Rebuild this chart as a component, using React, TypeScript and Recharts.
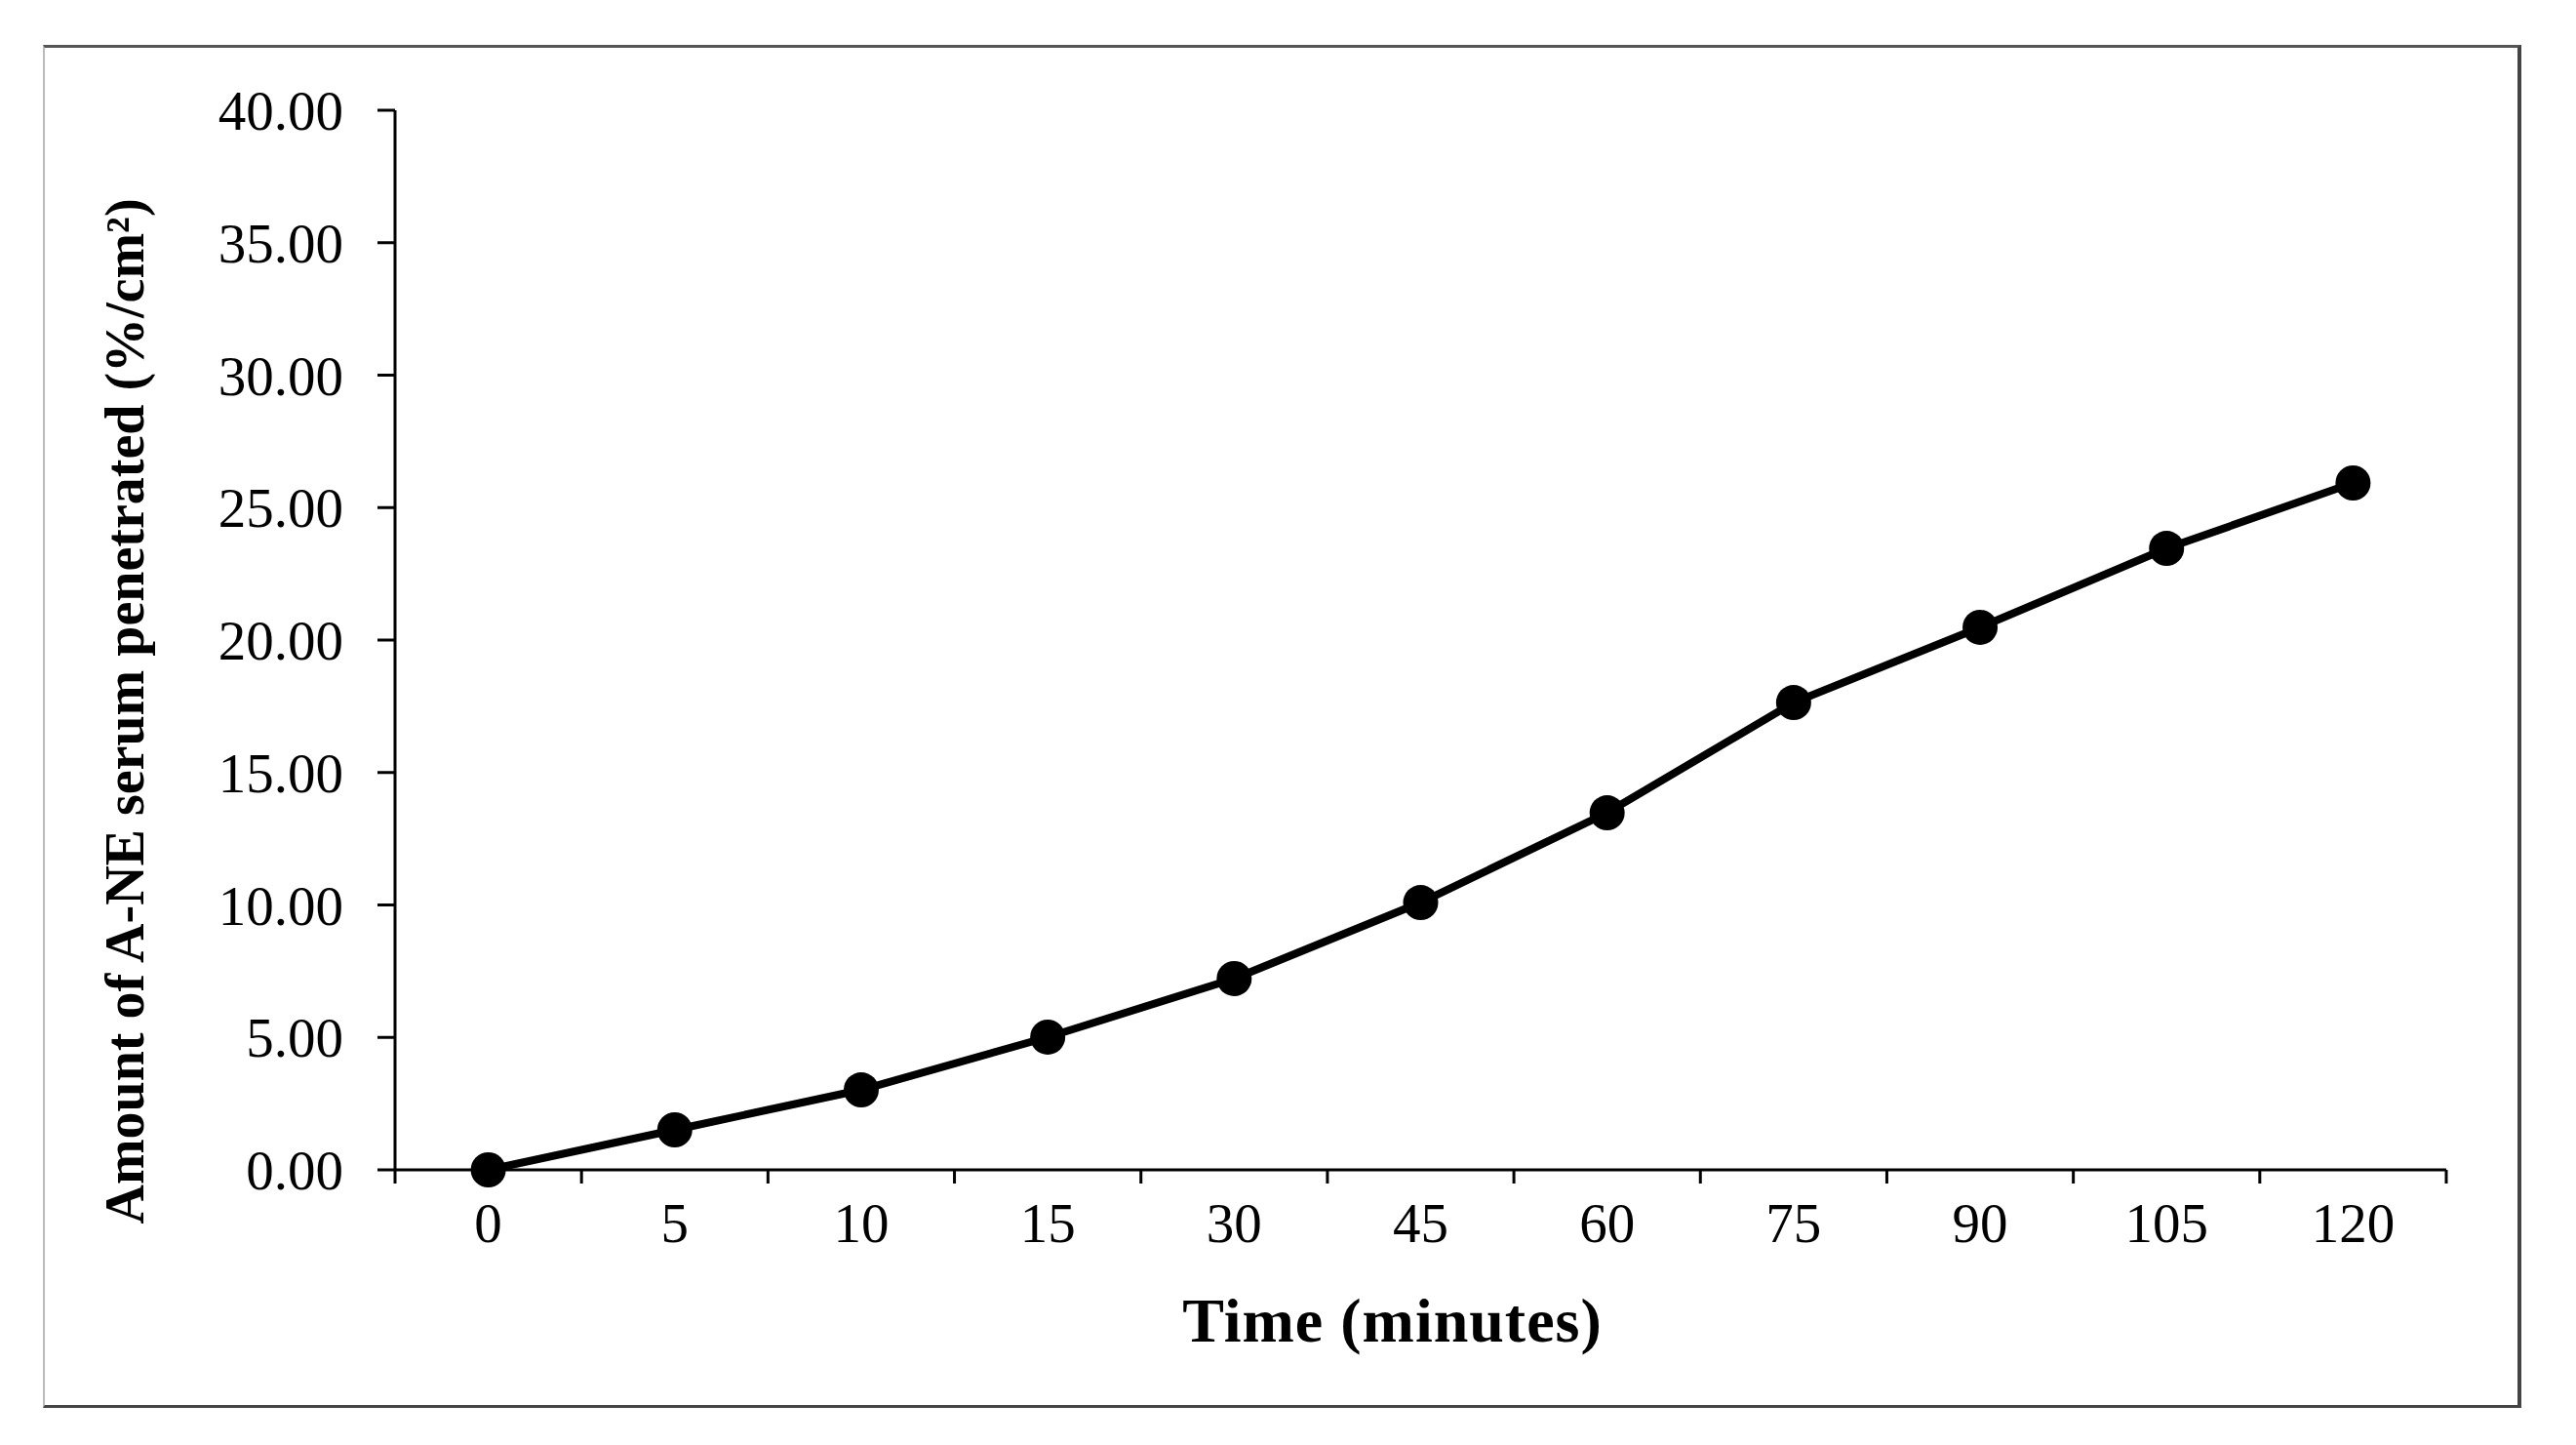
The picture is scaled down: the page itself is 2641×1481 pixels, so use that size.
import React from 'react';
import { LineChart, Line, XAxis, YAxis } from 'recharts';

const FONT = '"Liberation Serif", "Times New Roman", serif';

// time points (minutes) and cumulative amount penetrated (%/cm²)
const times = ['0', '5', '10', '15', '30', '45', '60', '75', '90', '105', '120'];
const amounts = [0, 1.51, 3.02, 5.01, 7.22, 10.09, 13.48, 17.64, 20.48, 23.46, 25.93];
const yTicks = [0, 5, 10, 15, 20, 25, 30, 35, 40];

const data = times.map((t, i) => ({ idx: i, time: t, amount: amounts[i] }));

// half steps: integers carry the labels, halves carry the tick marks between categories
const xTicks = Array.from({ length: times.length * 2 + 1 }, (_, k) => k / 2 - 0.5);

const XTick = (props: any) => {
    const { x, y, payload } = props;
    const v = payload.value as number;
    if (Number.isInteger(v)) {
        return (
            <text x={x} y={y + 60} textAnchor="middle" fontSize={57} fontFamily={FONT} fill="#000">
                {times[v]}
            </text>
        );
    }
    return <line x1={x} x2={x} y1={y - 14} y2={y} stroke="#000" strokeWidth={3} />;
};

const YTitle = (props: any) => {
    const { viewBox } = props;
    const cx = viewBox.x + 147;
    const cy = viewBox.y + viewBox.height / 2 + 73;
    return (
        <text
            transform={`translate(${cx},${cy}) rotate(-90)`}
            textAnchor="middle"
            fontSize={56}
            fontWeight="bold"
            fontFamily={FONT}
            fill="#000"
        >
            Amount of A-NE serum penetrated (%/cm²)
        </text>
    );
};

const XTitle = (props: any) => {
    const { viewBox } = props;
    return (
        <text
            x={viewBox.x + viewBox.width / 2 - 29}
            y={viewBox.y + 176}
            textAnchor="middle"
            fontSize={64}
            letterSpacing={1}
            fontWeight="bold"
            fontFamily={FONT}
            fill="#000"
        >
            Time (minutes)
        </text>
    );
};

export default function App() {
    return (
        <div style={{ position: 'absolute', left: 0, top: 0, width: 2641, height: 1481, background: '#fff' }}>
            <div
                style={{
                    position: 'absolute',
                    left: 44,
                    top: 46,
                    width: 2535,
                    height: 1391,
                    borderTop: '3px solid #555',
                    borderLeft: '2px solid #bbb',
                    borderRight: '4px solid #444',
                    borderBottom: '3px solid #444',
                }}
            />
            <div style={{ position: 'absolute', left: 0, top: 0 }}>
                <LineChart
                    width={2641}
                    height={1481}
                    data={data}
                    margin={{ top: 113, right: 133, bottom: 82, left: 0 }}
                >
                    <XAxis
                        dataKey="idx"
                        type="number"
                        domain={[-0.5, times.length - 0.5]}
                        ticks={xTicks}
                        interval={0}
                        tick={<XTick />}
                        tickLine={false}
                        tickSize={14}
                        tickMargin={0}
                        height={200}
                        axisLine={{ stroke: '#000', strokeWidth: 3 }}
                        label={{ content: <XTitle /> }}
                    />
                    <YAxis
                        type="number"
                        domain={[0, 40]}
                        ticks={yTicks}
                        interval={0}
                        width={405}
                        tickFormatter={(v: number) => v.toFixed(2)}
                        tickSize={18}
                        tickMargin={35}
                        tick={{ fontSize: 57, fontFamily: FONT, fill: '#000' }}
                        tickLine={{ stroke: '#000', strokeWidth: 3 }}
                        axisLine={{ stroke: '#000', strokeWidth: 3 }}
                        label={{ content: <YTitle /> }}
                    />
                    <Line
                        type="linear"
                        dataKey="amount"
                        stroke="#000"
                        strokeWidth={8}
                        dot={{ r: 18, fill: '#000', stroke: 'none' }}
                        activeDot={false}
                        isAnimationActive={false}
                    />
                </LineChart>
            </div>
        </div>
    );
}
